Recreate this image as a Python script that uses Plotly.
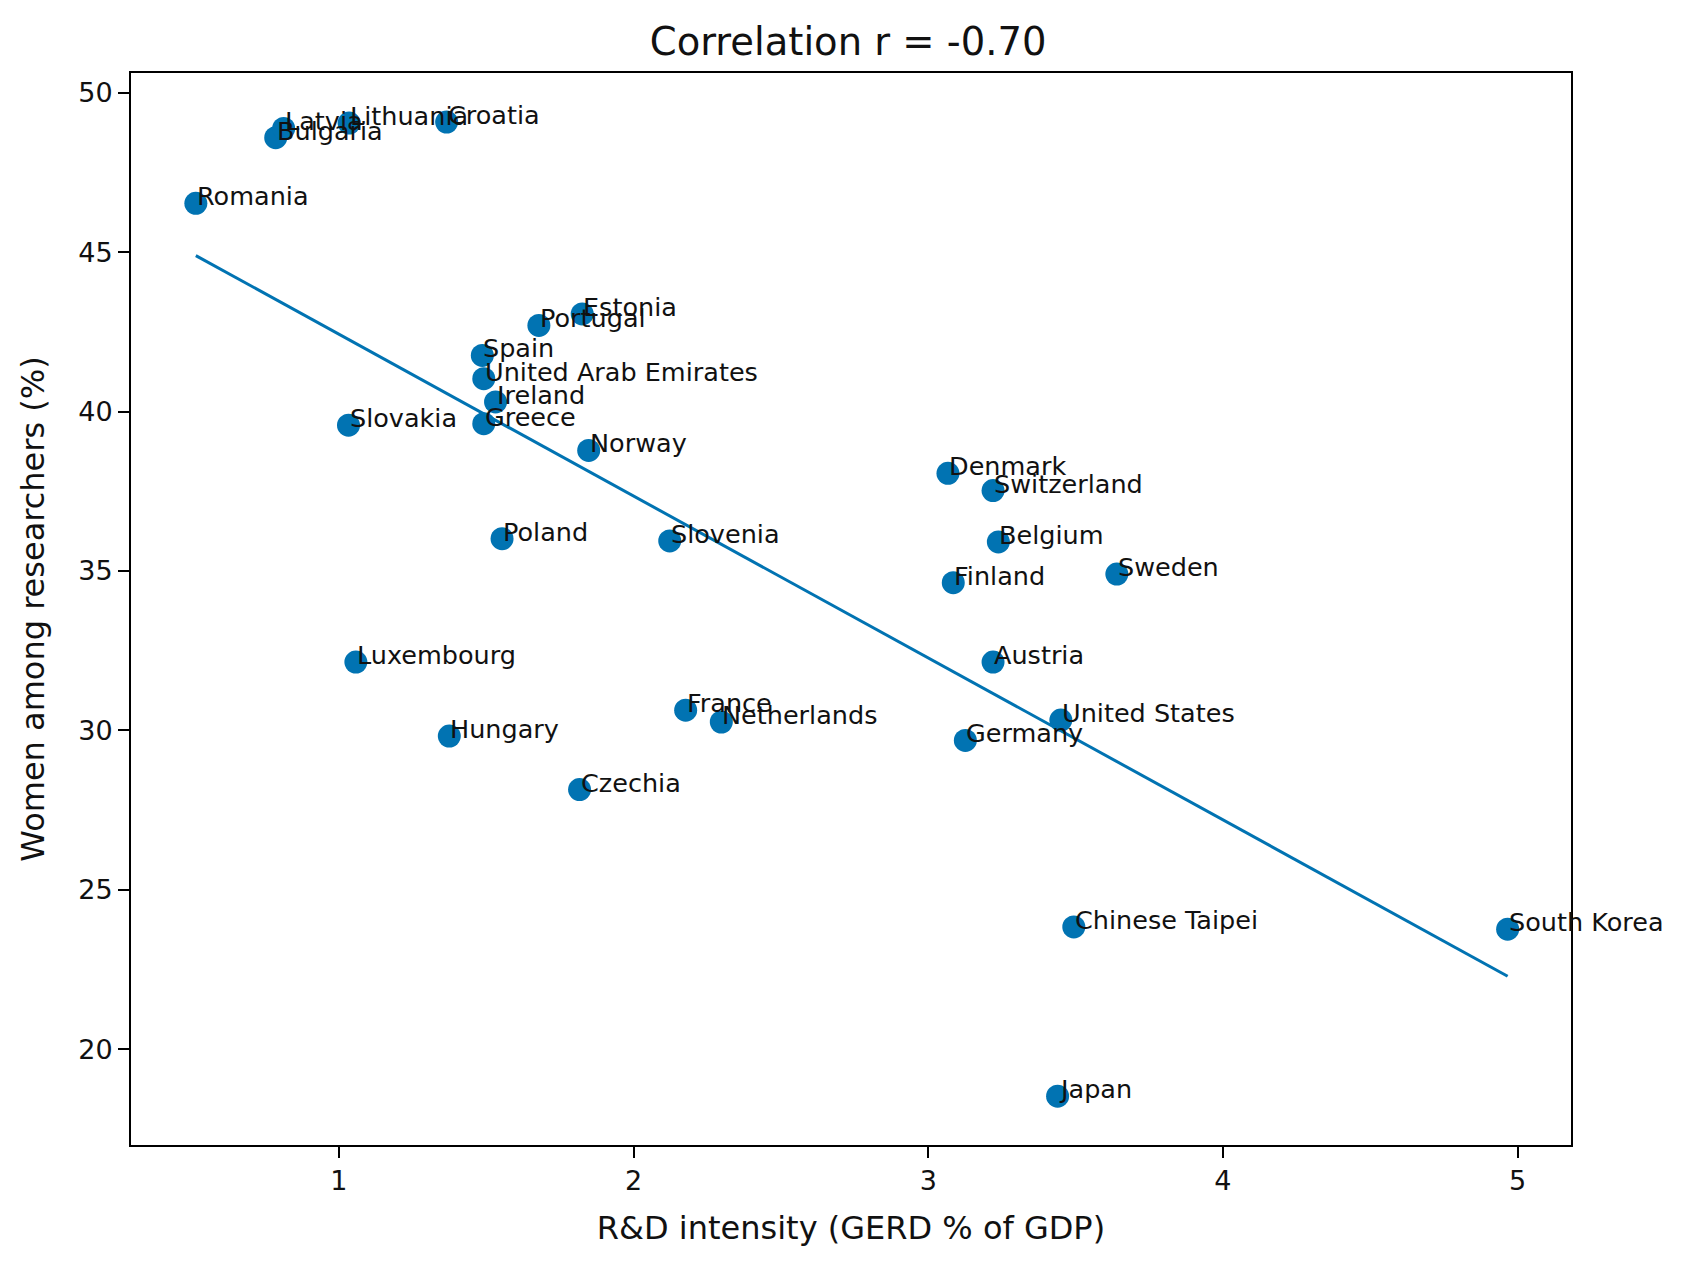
import numpy as np
import plotly.graph_objects as go

countries = ["Romania", "Bulgaria", "Latvia", "Lithuania", "Croatia", "Portugal", "Estonia",
             "Spain", "United Arab Emirates", "Ireland", "Greece", "Slovakia", "Norway",
             "Poland", "Slovenia", "Denmark", "Switzerland", "Belgium", "Finland", "Sweden",
             "Luxembourg", "Austria", "France", "Netherlands", "United States", "Hungary",
             "Germany", "Czechia", "Chinese Taipei", "South Korea", "Japan"]
rd_intensity = [0.515, 0.786, 0.813, 1.035, 1.366, 1.679, 1.826,
                1.487, 1.492, 1.532, 1.492, 1.033, 1.848,
                1.554, 2.123, 3.067, 3.220, 3.238, 3.085, 3.640,
                1.058, 3.220, 2.177, 2.298, 3.450, 1.375,
                3.126, 1.817, 3.494, 4.966, 3.439]
women_pct = [46.53, 48.59, 48.88, 49.05, 49.08, 42.70, 43.06,
             41.76, 41.03, 40.30, 39.62, 39.57, 38.78,
             36.01, 35.94, 38.06, 37.52, 35.91, 34.63, 34.90,
             32.14, 32.14, 30.63, 30.26, 30.32, 29.82,
             29.68, 28.14, 23.83, 23.76, 18.52]

title_text = "Correlation r = -0.70"
x_title = "R&D intensity (GERD % of GDP)"
y_title = "Women among researchers (%)"

BLUE = "#0173b2"
FONT = "DejaVu Sans"

x = np.array(rd_intensity)
y = np.array(women_pct)
slope, intercept = np.polyfit(x, y, 1)
xl = np.array([x.min(), x.max()])
yl = slope * xl + intercept

fig = go.Figure()
fig.add_trace(go.Scatter(x=x, y=y, mode="markers",
                         marker=dict(color=BLUE, size=23, line=dict(width=0)),
                         showlegend=False, hoverinfo="text", text=countries))
fig.add_trace(go.Scatter(x=xl, y=yl, mode="lines",
                         line=dict(color=BLUE, width=3), showlegend=False))

for c, xi, yi in zip(countries, rd_intensity, women_pct):
    fig.add_annotation(x=xi, y=yi, text=c, showarrow=False,
                       xanchor="left", yanchor="bottom", xshift=-1, yshift=-10,
                       font=dict(family=FONT, size=25.5, color="#111111"))

axis_common = dict(showline=True, linecolor="black", linewidth=2, mirror=True,
                   ticks="outside", ticklen=11, tickwidth=2, tickcolor="black",
                   showgrid=False, zeroline=False,
                   tickfont=dict(family=FONT, size=27, color="#111111"))

fig.update_layout(
    width=1682, height=1270,
    paper_bgcolor="white", plot_bgcolor="white",
    margin=dict(l=131, r=111, t=73, b=125),
    title=dict(text=title_text, x=0.498, xanchor="center", xref="paper",
               y=1 - 55 / 1270, yanchor="bottom", yref="container",
               font=dict(family=FONT, size=38.5, color="#111111")),
    xaxis=dict(range=[0.295, 5.181], tickvals=[1, 2, 3, 4, 5],
               title=dict(text=x_title, standoff=21,
                          font=dict(family=FONT, size=32, color="#111111")),
               **axis_common),
    yaxis=dict(range=[16.99, 50.62], tickvals=[20, 25, 30, 35, 40, 45, 50],
               title=dict(text=y_title, standoff=24,
                          font=dict(family=FONT, size=32, color="#111111")),
               **axis_common),
)

fig.write_html("out.html")
